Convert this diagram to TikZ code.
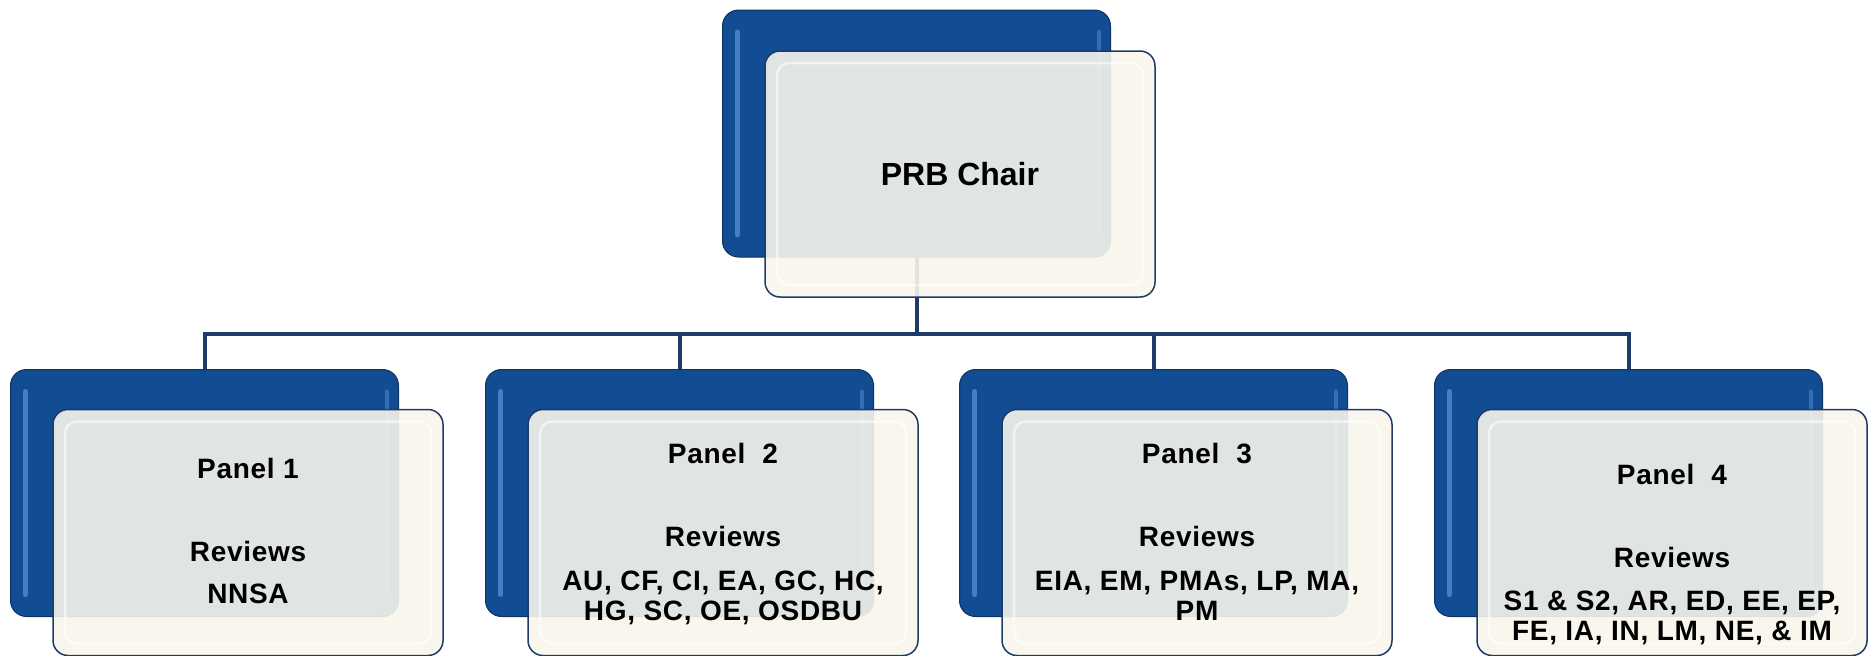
\documentclass[tikz,border=0pt]{standalone}
\usepackage{fontspec}
\setmainfont{Liberation Sans}
\usetikzlibrary{positioning}

\definecolor{prbblue}{RGB}{18,76,146}
\definecolor{prbedge}{RGB}{14,50,100}
\definecolor{prbshine}{RGB}{105,160,228}
\definecolor{prbcream}{RGB}{247,245,235}
\definecolor{prbline}{RGB}{30,58,102}

\tikzset{
  backbox/.style={rectangle, rounded corners=16pt, fill=prbblue, draw=prbedge, line width=1pt,
    minimum width=388pt, minimum height=247pt, inner sep=0pt,
    path picture={
      \draw[prbshine, line width=5pt, line cap=round, opacity=0.6]
        ([xshift=15pt,yshift=-22pt]path picture bounding box.north west) --
        ([xshift=15pt,yshift=22pt]path picture bounding box.south west);
      \draw[prbshine, line width=4pt, line cap=round, opacity=0.4]
        ([xshift=-12pt,yshift=-22pt]path picture bounding box.north east) --
        ([xshift=-12pt,yshift=22pt]path picture bounding box.south east);}},
  frontbox/.style={rectangle, rounded corners=15pt, fill=prbcream, fill opacity=0.9,
    draw=prbline, line width=1.5pt, minimum width=390pt, minimum height=246pt, inner sep=0pt,
    text opacity=1,
    path picture={\draw[white, line width=2.5pt, rounded corners=12pt, opacity=0.6]
      ([xshift=12pt,yshift=-12pt]path picture bounding box.north west) rectangle
      ([xshift=-12pt,yshift=12pt]path picture bounding box.south east);}},
  paneltext/.style={anchor=base, align=center, inner sep=0pt,
    font=\fontsize{28}{30}\selectfont\bfseries\addfontfeature{LetterSpace=2.5}},
  link/.style={draw=prbline, line width=4pt}
}

\begin{document}
\begin{tikzpicture}[x=1pt,y=-1pt]
  \useasboundingbox (0,0) rectangle (1869,656);

  % back plates
  \node[backbox] (chairback) at (916.5,133.5) {};
  \node[backbox] (p1back) at (204.5,493) {};
  \node[backbox] (p2back) at (679.5,493) {};
  \node[backbox] (p3back) at (1153.5,493) {};
  \node[backbox] (p4back) at (1628.5,493) {};

  % connectors
  \coordinate (bus) at (916.5,334);
  \draw[link] (chairback.south) -- (bus);
  \draw[link] (p1back.north) |- (bus) -| (p4back.north);
  \draw[link] (p2back.north) -- (p2back.north |- bus);
  \draw[link] (p3back.north) -- (p3back.north |- bus);

  % front plates
  \node[frontbox, font=\fontsize{32}{36}\selectfont\bfseries] (chair)
    at ([shift={(43.5,40.5)}]chairback.center) {PRB Chair};
  \node[frontbox] (p1) at ([shift={(43.5,39.5)}]p1back.center) {};
  \node[frontbox] (p2) at ([shift={(43.5,39.5)}]p2back.center) {};
  \node[frontbox] (p3) at ([shift={(43.5,39.5)}]p3back.center) {};
  \node[frontbox] (p4) at ([shift={(43.5,39.5)}]p4back.center) {};

  % panel texts (base = last line)
  \node[paneltext] (p1text) at ([shift={(0,195)}]p1.north)
    {Panel 1\\[53pt]Reviews\\[12pt]NNSA};
  \node[paneltext] (p2text) at ([shift={(0,212)}]p2.north)
    {Panel\ \ 2\\[53pt]Reviews\\[14pt]AU, CF, CI, EA, GC, HC,\\HG, SC, OE, OSDBU};
  \node[paneltext] (p3text) at ([shift={(0,212)}]p3.north)
    {Panel\ \ 3\\[53pt]Reviews\\[14pt]EIA, EM, PMAs, LP, MA,\\PM};
  \node[paneltext] (p4text) at ([shift={(0,232)}]p4.north)
    {Panel\ \ 4\\[53pt]Reviews\\[13pt]S1 \& S2, AR, ED, EE, EP,\\FE, IA, IN, LM, NE, \& IM};
\end{tikzpicture}
\end{document}
